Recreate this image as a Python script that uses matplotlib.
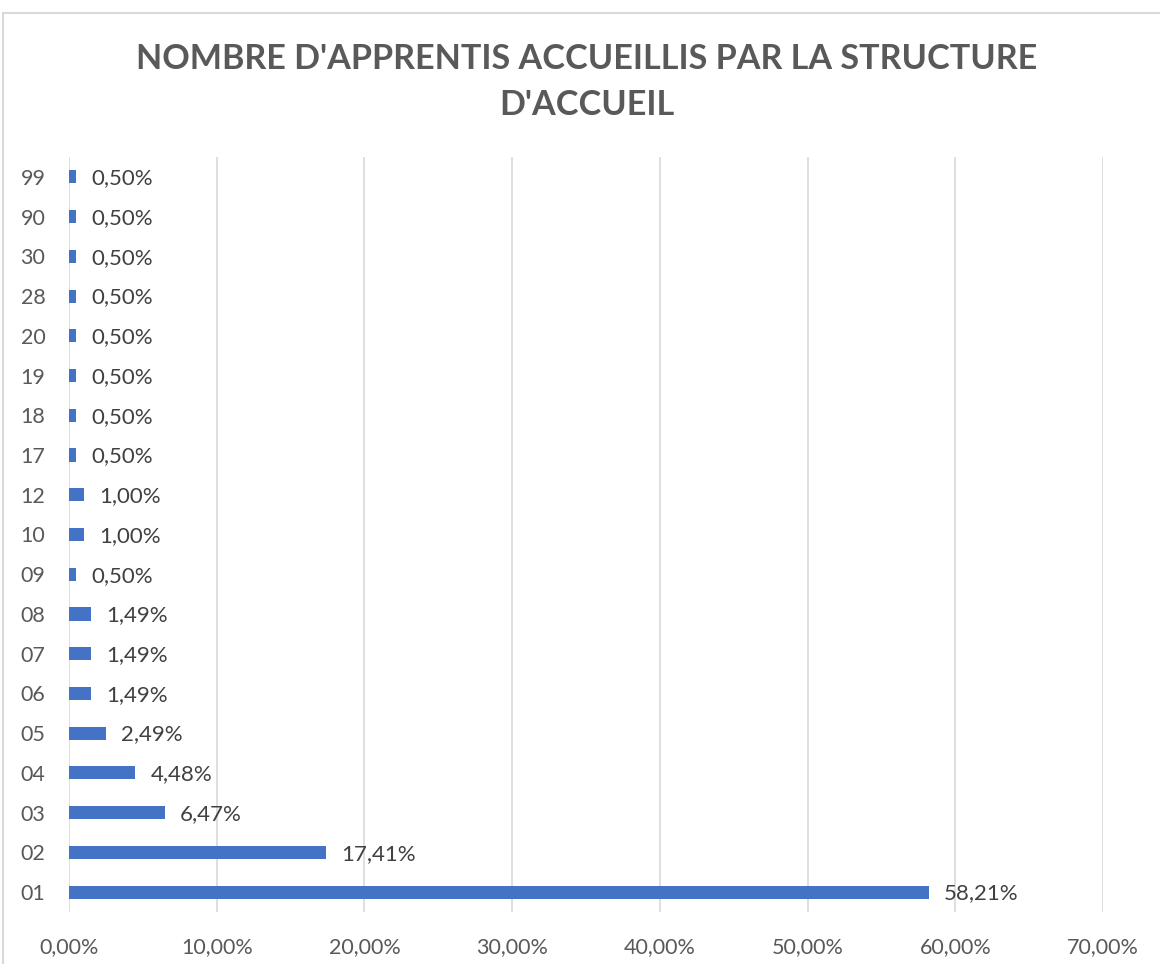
import matplotlib
matplotlib.use("Agg")
import matplotlib.pyplot as plt
from matplotlib.patches import Rectangle

categories = ["01", "02", "03", "04", "05", "06", "07", "08", "09", "10",
              "12", "17", "18", "19", "20", "28", "30", "90", "99"]
values = [58.21, 17.41, 6.47, 4.48, 2.49, 1.49, 1.49, 1.49, 0.50, 1.00,
          1.00, 0.50, 0.50, 0.50, 0.50, 0.50, 0.50, 0.50, 0.50]
xticks = [0, 10, 20, 30, 40, 50, 60, 70]
title = "NOMBRE D'APPRENTIS ACCUEILLIS PAR LA STRUCTURE\nD'ACCUEIL"

plt.rcParams['font.family'] = ['Lato', 'DejaVu Sans']

fig = plt.figure(figsize=(11.6, 9.64), dpi=100)
fig.patches.append(Rectangle((3/1160, -0.05), 1.2, 1 - 13/964 + 0.05,
                             transform=fig.transFigure, fill=False,
                             edgecolor="#d9d9d9", linewidth=1.5))

n = len(categories)
top_px, bot_px = 157, 912
ax = fig.add_axes([69/1160, 1 - bot_px/964, (1103-69)/1160, (bot_px-top_px)/964])
y = list(range(n))
ax.barh(y, values, height=0.33, color="#4472C4", zorder=3)
for yi, v in zip(y, values):
    ax.annotate(f"{v:.2f}%".replace(".", ","), (v, yi), xytext=(11, -1),
                textcoords="offset points", ha="left", va="center",
                fontsize=16, color="#404040")
ax.set_ylim(-0.5, n - 0.5)
ax.set_xlim(0, 70)
ax.set_xticks(xticks)
ax.set_xticklabels([f"{t:.2f}%".replace(".", ",") for t in xticks], fontsize=15.5, color="#595959")
ax.set_yticks(y)
ax.set_yticklabels(categories, fontsize=15.5, color="#595959")
ax.tick_params(axis="both", length=0)
ax.tick_params(axis="x", pad=18)
ax.tick_params(axis="y", pad=17)
ax.grid(axis="x", color="#d9d9d9", linewidth=1.2, zorder=0)
for s in ax.spines.values():
    s.set_visible(False)
ax.set_facecolor("none")

fig.text(587/1160, 1 - 82/964, title, ha="center", va="center", fontsize=24.6,
         fontweight="bold", color="#595959", linespacing=1.55)

fig.savefig("out.png", dpi=100)
